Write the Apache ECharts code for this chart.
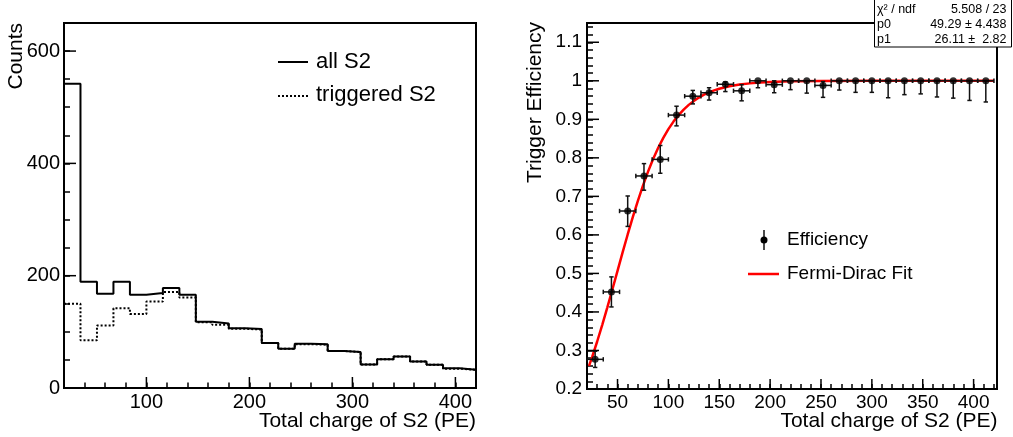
<!DOCTYPE html>
<html>
<head>
<meta charset="utf-8">
<script src="https://cdn.jsdelivr.net/npm/echarts@6/dist/echarts.min.js"></script>
<style>
html,body{margin:0;padding:0;background:#fff;}
#c{width:1013px;height:437px;}
</style>
</head>
<body>
<div id="c"></div>
<script>
// ---------------- data ----------------
const histEdges = [20,36,52,68,84,100,116,132,148,164,180,196,212,228,244,260,276,292,308,324,340,356,372,388,404,420];
const allS2 = [542,189,168,189,166,169,178,166,118,115,106.5,105,80,70,79,78,66,64,42,51,56,47,41.5,35,32.5];
const triggeredS2 = [150,85,111.5,142,132,154,171,161,117,112.5,105.5,104,80,70,78,77,66,64,42,51,56,47,41.5,34.5,32.5];

const effX = [28,44,60,76,92,108,124,140,156,172,188,204,220,236,252,268,284,300,316,332,348,364,380,396,412];
const effY = [0.277,0.452,0.662,0.753,0.796,0.911,0.960,0.969,0.991,0.974,1.0,0.990,1.0,1.0,0.988,1.0,1.0,1.0,1.0,1.0,1.0,1.0,1.0,1.0,1.0];
const effErrHigh = [0.021,0.039,0.039,0.032,0.036,0.023,0.015,0.013,0.006,0.016,0,0.010,0,0,0.010,0,0,0,0,0,0,0,0,0,0];
const effErrLow  = [0.021,0.039,0.040,0.037,0.036,0.028,0.020,0.019,0.019,0.026,0.018,0.021,0.023,0.032,0.031,0.024,0.030,0.030,0.044,0.036,0.034,0.042,0.045,0.051,0.055];

const fitX = [22,25,30,35,40,45,50,55,60,65,70,75,80,85,90,95,100,105,110,115,120,125,130,135,140,145,150,160,170,180,190,200,220,250,300,420];
const fitY = [0.2601,0.2829,0.3233,0.3665,0.4120,0.4590,0.5068,0.5545,0.6011,0.6460,0.6885,0.7280,0.7642,0.7970,0.8262,0.8520,0.8746,0.8941,0.9109,0.9253,0.9375,0.9478,0.9565,0.9639,0.9700,0.9750,0.9793,0.9858,0.9903,0.9933,0.9955,0.9969,0.9986,0.9995,0.9999,1.0];

const countTicks = [0,200,400,600];
const chargeTicksLeft = [100,200,300,400];
const chargeTicksRight = [50,100,150,200,250,300,350,400];
const effTicks = [0.2,0.3,0.4,0.5,0.6,0.7,0.8,0.9,1,1.1];

const statsRows = [["χ² / ndf","5.508 / 23"],["p0","49.29 ± 4.438"],["p1","26.11 ±  2.82"]];

// ---------------- layout ----------------
const FONT = '"Liberation Sans", Arial, Helvetica, sans-serif';
const L = {series:0, left:64, top:23, width:412, height:365, xMin:20, xMax:420, xMinor:20, yMin:0, yMax:650, yMinor:50,
           xMajLen:11, xMinLen:5.5, yMajLen:12, yMinLen:6};
const R = {series:2, left:587, top:23, width:410, height:366, xMin:20, xMax:423, xMinor:10, yMin:0.2, yMax:1.15, yMinor:0.02,
           xMajLen:10, xMinLen:5, yMajLen:12, yMinLen:6};

const chart = echarts.init(document.getElementById('c'), null, {renderer:'canvas'});

// value axis whose own ticks are the minor ticks; labels only at the major values
function axis(gi, min, max, interval, majors, tickLen, fontSize, margin){
  const key = v => Math.round(v * 1e4);
  const majorKeys = majors.map(key);
  return {type:'value', gridIndex:gi, min:min, max:max, interval:interval,
    axisLine:{show:true, onZero:false, lineStyle:{color:'#000', width:2}},
    axisTick:{show:true, inside:true, length:tickLen, lineStyle:{color:'#000', width:1.5}},
    axisLabel:{show:true, margin:margin, fontSize:fontSize, color:'#000', fontFamily:FONT,
      formatter: v => majorKeys.indexOf(key(v)) >= 0 ? String(+(+v).toFixed(4)) : ''},
    splitLine:{show:false}};
}

const stepData = (vals) => histEdges.map((e,i)=>[e, vals[Math.min(i, vals.length-1)]]);
const errData = effX.map((x,i)=>{
  const hw = (histEdges[i+1]-histEdges[i])/2;
  return [x, effY[i], hw, hw, effErrLow[i], effErrHigh[i]];
});

function renderErr(params, api){
  const x = api.value(0), y = api.value(1);
  const xl = api.value(2), xh = api.value(3), yl = api.value(4), yh = api.value(5);
  const Lp = api.coord([x-xl, y]), Rp = api.coord([x+xh, y]);
  const lo = api.coord([x, y-yl]), hi = api.coord([x, y+yh]);
  const st = () => ({stroke:'#111', lineWidth:1.5});
  const cap = 2.2;
  const ch = [
    {type:'line', shape:{x1:Lp[0], y1:Lp[1], x2:Rp[0], y2:Rp[1]}, style:st()},
    {type:'line', shape:{x1:Lp[0], y1:Lp[1]-cap, x2:Lp[0], y2:Lp[1]+cap}, style:st()},
    {type:'line', shape:{x1:Rp[0], y1:Rp[1]-cap, x2:Rp[0], y2:Rp[1]+cap}, style:st()}
  ];
  if (Math.abs(lo[1]-hi[1]) > 0.5) {
    ch.push({type:'line', shape:{x1:lo[0], y1:lo[1], x2:hi[0], y2:hi[1]}, style:st()});
    if (yl > 0) ch.push({type:'line', shape:{x1:lo[0]-cap, y1:lo[1], x2:lo[0]+cap, y2:lo[1]}, style:st()});
    if (yh > 0) ch.push({type:'line', shape:{x1:hi[0]-cap, y1:hi[1], x2:hi[0]+cap, y2:hi[1]}, style:st()});
  }
  return {type:'group', children:ch};
}

const titleFont = '21px ' + FONT;
const graphics = [
  // axis titles
  {type:'text', x:L.left+L.width, y:421, style:{text:'Total charge of S2 (PE)', font:titleFont, fill:'#000', align:'right', verticalAlign:'middle'}, z:50},
  {type:'text', x:R.left+R.width+0.5, y:421, style:{text:'Total charge of S2 (PE)', font:titleFont, fill:'#000', align:'right', verticalAlign:'middle'}, z:50},
  {type:'text', x:16, y:23, rotation:Math.PI/2, style:{text:'Counts', font:titleFont, fill:'#000', align:'right', verticalAlign:'middle'}, z:50},
  {type:'text', x:535, y:22, rotation:Math.PI/2, style:{text:'Trigger Efficiency', font:titleFont, fill:'#000', align:'right', verticalAlign:'middle'}, z:50},
  // left legend
  {type:'line', shape:{x1:278, y1:62, x2:308, y2:62}, style:{stroke:'#000', lineWidth:2}, z:50},
  {type:'text', x:316, y:62, style:{text:'all S2', font:'22px '+FONT, fill:'#000', verticalAlign:'middle'}, z:50},
  {type:'line', shape:{x1:278, y1:96, x2:308, y2:96}, style:{stroke:'#000', lineWidth:2, lineDash:[2,2]}, z:50},
  {type:'text', x:316, y:95, style:{text:'triggered S2', font:'22px '+FONT, fill:'#000', verticalAlign:'middle'}, z:50},
  // right legend
  {type:'line', shape:{x1:764, y1:230, x2:764, y2:250}, style:{stroke:'#111', lineWidth:1.5}, z:50},
  {type:'circle', shape:{cx:764, cy:240, r:3.5}, style:{fill:'#000'}, z:50},
  {type:'text', x:787, y:240, style:{text:'Efficiency', font:'19px '+FONT, fill:'#000', verticalAlign:'middle'}, z:50},
  {type:'line', shape:{x1:748, y1:274, x2:779, y2:274}, style:{stroke:'#ff0000', lineWidth:2.5}, z:50},
  {type:'text', x:787, y:274, style:{text:'Fermi-Dirac Fit', font:'19px '+FONT, fill:'#000', verticalAlign:'middle'}, z:50},
  // stats box
  {type:'rect', shape:{x:874.5, y:-1, width:137, height:48}, style:{fill:'#fff', stroke:'#000', lineWidth:1}, z:100}
];
statsRows.forEach((r,i)=>{
  const y = 10 + i*15;
  graphics.push({type:'text', x:877, y:y, style:{text:r[0], font:'12.5px '+FONT, fill:'#000', verticalAlign:'middle'}, z:101});
  graphics.push({type:'text', x:1006.5, y:y, style:{text:r[1], font:'12.5px '+FONT, fill:'#000', align:'right', verticalAlign:'middle'}, z:101});
});

chart.setOption({
  animation:false,
  backgroundColor:'#fff',
  grid:[
    {left:L.left, top:L.top, width:L.width, height:L.height, show:true, borderColor:'#000', borderWidth:2},
    {left:R.left, top:R.top, width:R.width, height:R.height, show:true, borderColor:'#000', borderWidth:2}
  ],
  xAxis:[
    axis(0, L.xMin, L.xMax, L.xMinor, chargeTicksLeft, L.xMinLen, 20, 4),
    axis(1, R.xMin, R.xMax, R.xMinor, chargeTicksRight, R.xMinLen, 19, 4)
  ],
  yAxis:[
    axis(0, L.yMin, L.yMax, L.yMinor, countTicks, L.yMinLen, 20, 4),
    axis(1, R.yMin, R.yMax, R.yMinor, effTicks, R.yMinLen, 19, 5)
  ],
  series:[
    {name:'all S2', type:'line', xAxisIndex:0, yAxisIndex:0, step:'end', symbol:'none',
     data:stepData(allS2), lineStyle:{color:'#000', width:2}, z:3},
    {name:'triggered S2', type:'line', xAxisIndex:0, yAxisIndex:0, step:'end', symbol:'none',
     data:stepData(triggeredS2), lineStyle:{color:'#000', width:2, type:[2,2]}, z:2},
    {name:'Fermi-Dirac Fit', type:'line', xAxisIndex:1, yAxisIndex:1, symbol:'none', smooth:false,
     data:fitX.map((x,i)=>[x, fitY[i]]), lineStyle:{color:'#ff0000', width:2.5}, z:4},
    {name:'Efficiency errors', type:'custom', xAxisIndex:1, yAxisIndex:1, renderItem:renderErr,
     data:errData, encode:{x:0, y:1}, z:5},
    {name:'Efficiency', type:'scatter', xAxisIndex:1, yAxisIndex:1, symbol:'circle', symbolSize:7,
     data:effX.map((x,i)=>[x, effY[i]]), itemStyle:{color:'#000'}, z:6}
  ]
});

// ---- longer major ticks, placed through the series' own coordinate system ----
function majorTickGraphics(g, xMajor, yMajor){
  const out = [];
  const conv = pt => chart.convertToPixel({seriesIndex:g.series}, pt);
  const addX = v => { const p = conv([v, g.yMin]);
    if (p && isFinite(p[0]) && isFinite(p[1]))
      out.push({type:'line', shape:{x1:p[0], y1:p[1], x2:p[0], y2:p[1]-g.xMajLen}, style:{stroke:'#000', lineWidth:1.5}, z:60}); };
  const addY = v => { const p = conv([g.xMin, v]);
    if (p && isFinite(p[0]) && isFinite(p[1]))
      out.push({type:'line', shape:{x1:p[0], y1:p[1], x2:p[0]+g.yMajLen, y2:p[1]}, style:{stroke:'#000', lineWidth:1.5}, z:60}); };
  xMajor.forEach(addX);
  yMajor.forEach(addY);
  return out;
}
let extra = [];
try {
  extra = majorTickGraphics(L, chargeTicksLeft, countTicks).concat(majorTickGraphics(R, chargeTicksRight, effTicks));
} catch (e) { extra = []; }
chart.setOption({graphic: graphics.concat(extra)});
</script>
</body>
</html>
